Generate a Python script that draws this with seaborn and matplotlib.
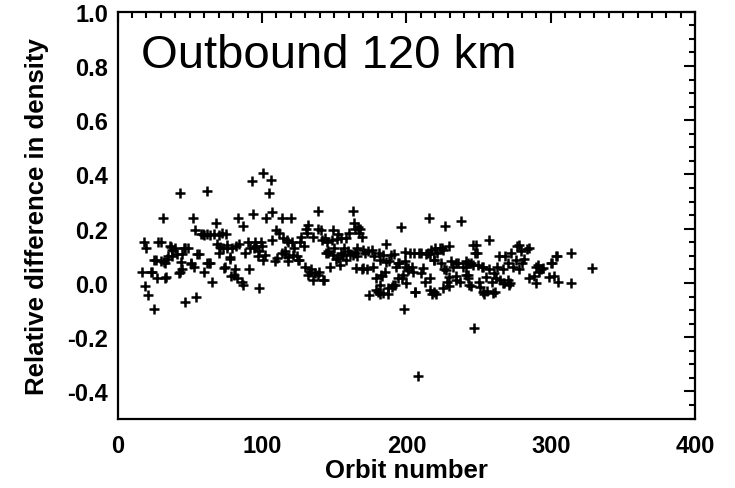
import numpy as np
import pandas as pd
import matplotlib
matplotlib.use("Agg")
import matplotlib.pyplot as plt
import seaborn as sns
from matplotlib.ticker import MultipleLocator

# ------------------------------------------------
# Data
# ------------------------------------------------
orbit = [
    17, 18.5, 20, 19, 21, 23, 24, 25, 26.6, 27, 28, 30, 31.5, 30, 33, 33, 35, 36, 38, 38,
    39.5, 41, 43, 43, 44.5, 44.5, 46, 47, 48.7, 51, 52, 53, 54, 53.5, 55, 56.5, 57.5, 59, 60, 61.7,
    62, 62, 64, 65.6, 67, 68, 69, 70, 72, 73, 74, 75, 76, 78, 78.6, 79.5, 81, 82, 83.4, 84,
    86, 87, 87, 88, 90, 91, 93, 94, 95, 96, 97, 98, 99, 100, 100.6, 101, 103, 104.5, 106, 107,
    107, 109, 110, 111.7, 113.6, 114, 116, 117.5, 118, 120, 121, 122, 124, 125.6, 127, 129, 131, 132, 132, 134,
    135, 135, 137, 138.6, 139.6, 141, 142, 143, 143.5, 144.5, 146, 147, 149, 150, 151, 152.6, 154, 155, 156.5, 158,
    158, 160, 161, 163, 163.6, 164.6, 165.6, 166, 167, 168, 169, 169.5, 171, 172.7, 174, 176, 177.6, 179, 181, 182,
    183, 185, 186, 187, 188, 190, 191.5, 192, 193, 195, 196, 197, 198, 199, 200, 201, 202.6, 203.6, 205, 206,
    208, 208.4, 210, 211.7, 212.7, 215, 215.6, 216.5, 218, 219, 220.5, 221.4, 223, 224.7, 226, 227, 228, 229.5, 230.5, 232,
    234, 234.4, 236, 237, 238, 239, 241, 242.5, 243.5, 245, 246.7, 248, 249, 250.6, 252, 254, 255.5, 257, 257, 259,
    260.4, 261, 263, 264, 265, 267, 267.5, 268.5, 270, 271.8, 272.7, 274, 275.6, 276.6, 278, 280, 281.5, 284.7, 288, 289.6,
    291, 293, 294.5, 301, 302, 304, 305, 314, 314, 328.5,
    36.7, 47, 25.2, 32, 34.3, 43.6, 50.5, 42.5, 33.2, 63.1, 71.2, 75.8, 78, 74.6, 80.5, 82.7, 60, 64, 70, 92,
    94.5, 97.6, 102.2, 110.3, 116, 118.3, 121.7, 125.2, 129.8, 133.2, 139, 145.9, 149.3, 152.8, 156.2, 159.7, 163.1, 165.4, 114.8, 118.3,
    126.3, 130.5, 139, 141.3, 144.8, 148.2, 151.7, 155, 164.3, 166.5, 170, 173.4, 170, 176.9, 181.5, 183.8, 186.1, 189.6, 194.1, 179.2,
    182.7, 181.5, 180.3, 183.8, 187.2, 190.7, 194.1, 197.6, 201, 204.5, 205.6, 198.9, 213.8, 217.2, 219.5, 225.3, 199.9, 210.3, 216, 219.4,
    224, 234.4, 241.3, 227.5, 229.8, 225.2, 229.8, 219.4, 216, 246.3, 247.7, 277.6, 283.8, 279.2, 303.4, 242.4, 245.9, 249.3, 252.8, 241.3,
    242.4, 244.8, 250.5, 252.8, 259.7, 255.1, 262, 266.6, 271.2, 270, 285, 289.6, 291.8, 298.8, 299.9,
]

rel_diff = [
    0.04, 0.15, 0.13, -0.01, -0.045, 0.04, 0.04, -0.095, 0.085, 0.02, 0.15, 0.15, 0.24, 0.08, 0.02, 0.075, 0.1, 0.135, 0.12, 0.1,
    0.13, 0.105, 0.33, 0.04, 0.05, 0.105, 0.13, -0.07, 0.13, 0.075, 0.24, 0.06, -0.05, 0.195, 0.105, 0.105, 0.18, 0.18, 0.04, 0.34,
    0.18, 0.075, 0.075, 0.005, 0.18, 0.22, 0.145, 0.11, 0.185, 0.13, 0.055, 0.18, 0.13, 0.09, 0.025, 0.13, 0.05, 0.135, 0.24, 0.145,
    0.005, -0.007, 0.21, 0.11, 0.15, 0.05, 0.375, 0.255, 0.15, 0.135, 0.1, -0.02, 0.15, 0.135, 0.405, 0.085, 0.24, 0.33, 0.38, 0.26,
    0.16, 0.08, 0.195, 0.185, 0.24, 0.11, 0.105, 0.16, 0.08, 0.24, 0.15, 0.13, 0.1, 0.085, 0.17, 0.135, 0.185, 0.215, 0.03, 0.05,
    0.01, 0.17, 0.035, 0.265, 0.04, 0.195, 0.01, 0.01, 0.165, 0.11, 0.11, 0.06, 0.195, 0.13, 0.09, 0.18, 0.065, 0.11, 0.13, 0.165,
    0.085, 0.185, 0.105, 0.265, 0.22, 0.11, 0.13, 0.1, 0.185, 0.2, 0.05, 0.17, 0.11, 0.05, -0.045, 0.12, 0.1, -0.025, 0.11, -0.04,
    0.025, 0.04, 0.145, -0.04, 0.08, -0.015, 0.105, -0.007, 0.06, 0.075, 0.205, 0.02, -0.095, 0.08, 0.0, 0.055, 0.11, 0.06, 0.11, -0.035,
    -0.343, 0.11, 0.11, 0.055, 0.005, 0.11, 0.24, 0.105, -0.04, 0.085, -0.04, 0.11, 0.13, 0.13, 0.05, 0.21, 0.005, 0.135, 0.08, 0.06,
    0.01, 0.025, 0.075, 0.005, 0.23, 0.06, 0.08, 0.03, -0.007, 0.075, -0.165, 0.14, 0.11, -0.015, 0.06, -0.04, -0.03, 0.16, 0.05, 0.005,
    0.035, -0.035, 0.06, 0.1, 0.01, 0.05, 0.0, 0.1, 0.075, 0.0, 0.11, 0.06, 0.085, 0.135, 0.05, 0.075, 0.09, 0.13, 0.025, 0.0,
    0.065, 0.05, 0.055, 0.075, 0.025, 0.1, 0.005, 0.11, 0.0, 0.055,
    0.132, 0.128, 0.085, 0.079, 0.09, 0.079, 0.07, 0.036, 0.023, 0.073, 0.134, 0.14, 0.097, 0.06, 0.03, 0.017, 0.175, 0.175, 0.175, 0.13,
    0.128, 0.116, 0.103, 0.091, 0.116, 0.097, 0.103, 0.085, 0.06, 0.042, 0.03, 0.116, 0.103, 0.091, 0.103, 0.116, 0.103, 0.054, 0.165, 0.152,
    0.152, 0.2, 0.2, 0.159, 0.152, 0.159, 0.163, 0.166, 0.2, 0.208, 0.122, 0.116, 0.054, 0.06, 0.085, 0.103, 0.079, 0.103, 0.073, 0.017,
    0.03, -0.007, -0.032, -0.038, -0.02, -0.007, 0.017, 0.03, 0.048, 0.042, -0.032, 0.114, 0.108, 0.122, 0.128, 0.122, 0.06, 0.036, 0.017, 0.085,
    0.073, 0.073, 0.06, 0.048, 0.023, -0.02, -0.013, -0.032, -0.026, 0.14, 0.11, 0.14, 0.124, 0.116, 0.1, 0.073, 0.066, 0.066, 0.06, 0.03,
    0.017, -0.013, 0.005, -0.032, -0.038, 0.023, 0.017, 0.001, -0.007, 0.011, 0.017, 0.06, 0.042, 0.023, 0.073,
]

x_ticks = [0, 100, 200, 300, 400]
y_ticks = [-0.4, -0.2, 0.0, 0.2, 0.4, 0.6, 0.8, 1.0]
panel_label = "Outbound 120 km"

df = pd.DataFrame({"Orbit number": orbit, "Relative difference in density": rel_diff})

# ------------------------------------------------
# Plot
# ------------------------------------------------
sns.set_style("white", {"text.color": "black", "axes.labelcolor": "black",
                        "xtick.color": "black", "ytick.color": "black",
                        "axes.edgecolor": "black"})
plt.rcParams['font.family'] = ['Liberation Sans', 'DejaVu Sans']

fig = plt.figure(figsize=(7.35, 4.89), dpi=100)
ax = fig.add_axes([0.160, 0.142, 0.786, 0.832])

sns.scatterplot(data=df, x="Orbit number", y="Relative difference in density",
                marker="+", color="black", s=60, linewidth=1.8, ax=ax)

ax.set_xlim(0, 400)
ax.set_ylim(-0.5, 1.0)
ax.set_xticks(x_ticks)
ax.set_yticks(y_ticks)
ax.set_yticklabels([f"{v:.1f}" for v in y_ticks])
ax.xaxis.set_minor_locator(MultipleLocator(10))
ax.yaxis.set_minor_locator(MultipleLocator(0.05))

ax.tick_params(which="both", direction="in", top=True, right=True, color="black", width=1.5)
ax.tick_params(which="major", length=8, labelsize=17)
ax.tick_params(which="minor", length=4)
ax.tick_params(axis="x", which="major", pad=11)
ax.tick_params(axis="y", which="major", pad=7)
for lab in ax.get_xticklabels() + ax.get_yticklabels():
    lab.set_fontweight("bold")

for spine in ax.spines.values():
    spine.set_linewidth(1.6)
    spine.set_color("black")

ax.set_xlabel("Orbit number", fontsize=18.5, fontweight="bold", labelpad=1)
ax.set_ylabel("Relative difference in density", fontsize=18.5, fontweight="bold", labelpad=13)

ax.text(0.04, 0.864, panel_label, transform=ax.transAxes, fontsize=34,
        ha="left", va="baseline")

fig.savefig("out.png", dpi=100)
